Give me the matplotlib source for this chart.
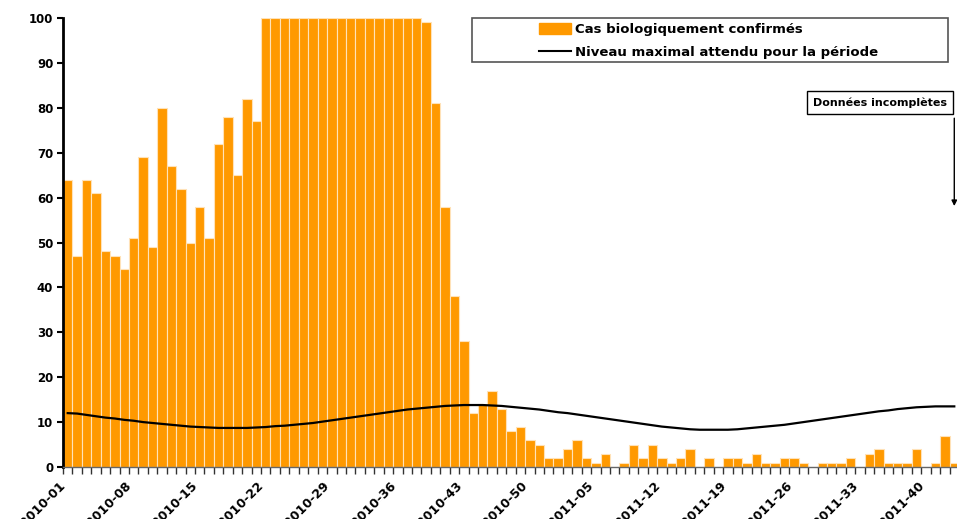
import numpy as np
import matplotlib
matplotlib.use('Agg')
import matplotlib.pyplot as plt
import matplotlib.transforms as mtransforms
from matplotlib.patches import Rectangle, Patch
from matplotlib.lines import Line2D

# ------------------------------------------------------------
# DATA (weekly, 2010-01 .. 2011-43)
# ------------------------------------------------------------
weeks = [f"2010-{w:02d}" for w in range(1, 53)] + [f"2011-{w:02d}" for w in range(1, 44)]

cases = [64, 47, 64, 61, 48, 47, 44, 51, 69, 49,
         80, 67, 62, 50, 58, 51, 72, 78, 65, 82,
         77, 100, 100, 100, 100, 100, 100, 100, 100, 100,
         100, 100, 100, 100, 100, 100, 100, 100, 99, 81,
         58, 38, 28, 12, 14, 17, 13, 8, 9, 6,
         5, 2, 2, 4, 6, 2, 1, 3, 0, 1,
         5, 2, 5, 2, 1, 2, 4, 0, 2, 0,
         2, 2, 1, 3, 1, 1, 2, 2, 1, 0,
         1, 1, 1, 2, 0, 3, 4, 1, 1, 1,
         4, 0, 1, 7, 1]

threshold = [12.0, 11.9, 11.6, 11.3, 11.0, 10.8, 10.5, 10.3, 10.0, 9.8,
             9.6, 9.4, 9.2, 9.0, 8.9, 8.8, 8.7, 8.7, 8.7, 8.7,
             8.8, 8.9, 9.1, 9.2, 9.4, 9.6, 9.8, 10.1, 10.4, 10.7,
             11.0, 11.3, 11.6, 11.9, 12.2, 12.5, 12.8, 13.0, 13.2, 13.4,
             13.6, 13.7, 13.8, 13.8, 13.8, 13.7, 13.6, 13.4, 13.2, 13.0,
             12.8, 12.5, 12.2, 12.0, 11.7, 11.4, 11.1, 10.8, 10.5, 10.2,
             9.9, 9.6, 9.3, 9.0, 8.8, 8.6, 8.4, 8.3, 8.3, 8.3,
             8.3, 8.4, 8.6, 8.8, 9.0, 9.2, 9.4, 9.7, 10.0, 10.3,
             10.6, 10.9, 11.2, 11.5, 11.8, 12.1, 12.4, 12.6, 12.9, 13.1,
             13.3, 13.4, 13.5, 13.5, 13.5]

label_step = 7
orange = '#FF9900'

# ------------------------------------------------------------
# FIGURE
# ------------------------------------------------------------
W, H = 957, 519
fig = plt.figure(figsize=(W/100, H/100), dpi=100)
ax = fig.add_axes([63/W, 1 - 467/H, (959 - 63)/W, (467 - 18)/H])

x = np.arange(1, len(cases) + 1)
ax.bar(x, cases, width=1.0, color=orange, edgecolor='#FFE2B8', linewidth=0.8, zorder=2)
ax.plot(x, threshold, color='black', lw=1.6, zorder=3)

ax.set_xlim(0.5, len(cases) + 0.5)
ax.set_ylim(0, 100)

# y axis
ax.set_yticks(np.arange(0, 101, 10))
ax.tick_params(axis='y', direction='out', length=4, width=1.5, color='black', pad=3)
for lab in ax.get_yticklabels():
    lab.set_fontweight('bold')
    lab.set_fontsize(8.5)
ax.spines['left'].set_linewidth(2)
ax.spines['left'].set_color('black')
ax.spines['bottom'].set_color('#666666')
ax.spines['bottom'].set_linewidth(1)
ax.spines['top'].set_visible(False)
ax.spines['right'].set_visible(False)

# x axis: tick marks between weeks, labels every 7 weeks
ax.set_xticks(x - 0.5, minor=True)
ax.tick_params(axis='x', which='minor', direction='out', length=5, width=1, color='#333333')
major_pos = x[::label_step] - 0.5
ax.set_xticks(major_pos)
ax.set_xticklabels(weeks[::label_step], rotation=45, ha='right', va='top',
                   rotation_mode='anchor', fontsize=9, fontweight='bold')
ax.tick_params(axis='x', which='major', direction='out', length=5, width=1, color='#333333', pad=4)
shift = mtransforms.ScaledTranslation(-4/100, 0, fig.dpi_scale_trans)
for lab in ax.get_xticklabels():
    lab.set_transform(lab.get_transform() + shift)

# legend with its own frame
leg_box = Rectangle((472/W, 1 - 62/H), (948 - 472)/W, (62 - 18)/H, transform=fig.transFigure,
                    fill=True, fc='white', ec='#555555', lw=1.2, zorder=10)
fig.patches.append(leg_box)
handles = [Patch(facecolor=orange, edgecolor=orange),
           Line2D([0], [0], color='black', lw=1.5)]
leg = fig.legend(handles, ['Cas biologiquement confirmés', 'Niveau maximal attendu pour la période'],
                 loc='upper left', bbox_to_anchor=(534/W, 1 - 18/H), frameon=False,
                 prop={'weight': 'bold', 'size': 9.5}, handlelength=2.4, handleheight=0.9,
                 handletextpad=0.3, labelspacing=0.75, borderaxespad=0)
leg.set_zorder(11)

# "Données incomplètes" annotation
ax.text(94.2, 81.2, 'Données incomplètes', ha='right', va='center', fontsize=8,
        fontweight='bold', zorder=5,
        bbox=dict(boxstyle='square,pad=0.55', fc='white', ec='black', lw=1))
ax.annotate('', xy=(95.0, 57.5), xytext=(95.0, 78.3),
            arrowprops=dict(arrowstyle='-|>', color='black', lw=1, mutation_scale=8),
            zorder=5, annotation_clip=False)

fig.savefig('out.png', dpi=100)
